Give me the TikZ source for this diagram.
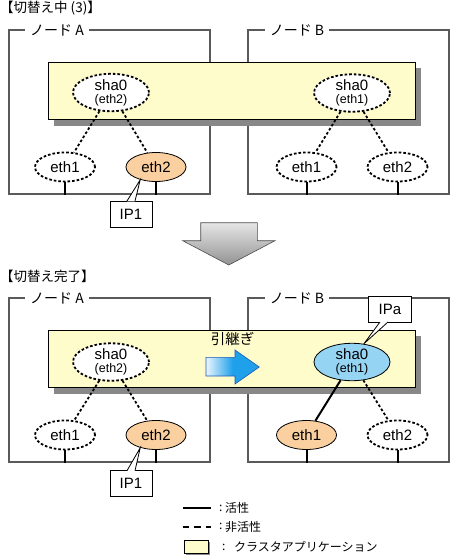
\documentclass[tikz,border=0pt]{standalone}
\usepackage{fontspec}
\setmainfont{Liberation Sans}
\newfontfamily\jpfont{Noto Sans CJK JP}
\usetikzlibrary{shapes.geometric,calc}
\definecolor{bandyellow}{RGB}{255,252,204}
\definecolor{shadowgray}{RGB}{136,136,136}
\definecolor{framegray}{RGB}{90,90,90}
\definecolor{iforange}{RGB}{250,208,160}
\definecolor{shablue}{RGB}{150,212,243}
\definecolor{arrblue}{RGB}{30,160,235}
\definecolor{arrlight}{RGB}{235,245,255}
\definecolor{arredge}{RGB}{30,90,180}
\pgfdeclarehorizontalshading{bluearr}{100bp}{color(0bp)=(arrlight); color(25bp)=(arrlight); color(50bp)=(arrblue); color(100bp)=(arrblue)}
\tikzset{
  frm/.style={draw=framegray, line width=1.4pt, minimum width=201pt, minimum height=164pt, inner sep=0pt},
  frmlabel/.style={fill=white, inner xsep=5pt, inner ysep=1pt, font=\jpfont\fontsize{14}{14}\selectfont},
  title/.style={anchor=west, inner sep=0pt, font=\jpfont\fontsize{13.5}{13.5}\selectfont},
  bandbox/.style={fill=bandyellow, draw=black, line width=0.8pt, minimum width=367pt, minimum height=57pt, inner sep=0pt},
  ellbase/.style={ellipse, inner sep=0pt, minimum width=60pt, minimum height=29pt, font=\fontsize{15}{15}\selectfont},
  ifoff/.style={ellbase, draw=black, fill=white, line width=1.8pt, dash pattern=on 2.6pt off 2pt},
  ifon/.style={ellbase, draw=black, fill=iforange, line width=0.8pt},
  shabase/.style={ellipse, inner sep=0pt, minimum width=76pt, minimum height=36pt, align=center, font=\fontsize{15}{13}\selectfont},
  shaoff/.style={shabase, draw=black, fill=white, line width=1.8pt, dash pattern=on 2.6pt off 2pt},
  shaon/.style={shabase, draw=black, fill=shablue, line width=0.8pt},
  conoff/.style={draw=black, line width=1.8pt, dash pattern=on 2.6pt off 2.2pt},
  conon/.style={draw=black, line width=2pt},
  tickline/.style={draw=black, line width=2pt},
  callbox/.style={draw=black, fill=white, line width=0.8pt, inner sep=0pt, minimum height=26pt, font=\fontsize{15}{15}\selectfont},
  legtext/.style={anchor=west, inner sep=0pt, font=\jpfont\fontsize{12}{12}\selectfont},
}
\newcommand{\shatext}[1]{sha0\\{\fontsize{12.5}{12}\selectfont(#1)}}
\begin{document}
\begin{tikzpicture}[x=1pt,y=-1pt]
\useasboundingbox (0,0) rectangle (450,557);
% ---------------- top section ----------------
\node[title] (t-title) at (0,8) {【切替え中 (3)】};
\node[frm] (t-fA) at (109.5,112) {};
\node[frm] (t-fB) at (348.5,112) {};
\node[frmlabel] (t-labA) at (57,30) {ノード A};
\node[frmlabel] (t-labB) at (297,30) {ノード B};
\fill[shadowgray] (54,68) rectangle (421,126);
\node[bandbox] (t-band) at (231.5,90.5) {};
\node[shaoff] (t-shaA) at (111,92.5) {\shatext{eth2}};
\node[shaoff] (t-shaB) at (352,93) {\shatext{eth1}};
\node[ifoff] (t-e1A) at (65,167) {eth1};
\node[ifon]  (t-e2A) at (156,167) {eth2};
\node[ifoff] (t-e1B) at (306.5,167) {eth1};
\node[ifoff] (t-e2B) at (397.5,167) {eth2};
\draw[conoff] (t-shaA) -- (t-e1A);
\draw[conoff] (t-shaA) -- (t-e2A);
\draw[conoff] (t-shaB) -- (t-e1B);
\draw[conoff] (t-shaB) -- (t-e2B);
\foreach \n in {e1A,e2A}{\draw[tickline] (t-\n.south) -- (t-\n.south |- t-fA.south);}
\foreach \n in {e1B,e2B}{\draw[tickline] (t-\n.south) -- (t-\n.south |- t-fB.south);}
\node[callbox, minimum width=42pt] (t-ip1) at (131,214) {IP1};
\fill[white] ($(t-ip1.north)+(-4,0.8)$) -- (t-e2A.219) -- ($(t-ip1.north)+(4,0.8)$) -- cycle;
\draw[line width=0.8pt] ($(t-ip1.north)+(-4,0.4)$) -- (t-e2A.219) -- ($(t-ip1.north)+(4,0.4)$);
% big down arrow
\shade[top color=gray!20, bottom color=gray!85, draw=gray!60!black, line width=0.6pt]
  (200.7,222.7) -- (257.3,222.7) -- (257.3,240.7) -- (275,240.7) -- (228.8,265)
  -- (182.7,240.7) -- (200.7,240.7) -- cycle;
% ---------------- bottom section ----------------
\begin{scope}[yshift=-268pt]
\node[title] (b-title) at (0,8) {【切替え完了】};
\node[frm] (b-fA) at (109.5,112) {};
\node[frm] (b-fB) at (348.5,112) {};
\node[frmlabel] (b-labA) at (57,30) {ノード A};
\node[frmlabel] (b-labB) at (297,30) {ノード B};
\fill[shadowgray] (54,68) rectangle (421,126);
\node[bandbox] (b-band) at (231.5,90.5) {};
\node[shaoff] (b-shaA) at (111,94) {\shatext{eth2}};
\node[shaon]  (b-shaB) at (352,94) {\shatext{eth1}};
\node[ifoff] (b-e1A) at (65,167) {eth1};
\node[ifon]  (b-e2A) at (156,167) {eth2};
\node[ifon]  (b-e1B) at (306.5,167) {eth1};
\node[ifoff] (b-e2B) at (397.5,167) {eth2};
\draw[conoff] (b-shaA) -- (b-e1A);
\draw[conoff] (b-shaA) -- (b-e2A);
\draw[conon]  (b-shaB) -- (b-e1B);
\draw[conoff] (b-shaB) -- (b-e2B);
\foreach \n in {e1A,e2A}{\draw[tickline] (b-\n.south) -- (b-\n.south |- b-fA.south);}
\foreach \n in {e1B,e2B}{\draw[tickline] (b-\n.south) -- (b-\n.south |- b-fB.south);}
\node[callbox, minimum width=42pt] (b-ip1) at (131,215.7) {IP1};
\fill[white] ($(b-ip1.north)+(-4,0.8)$) -- (b-e2A.219) -- ($(b-ip1.north)+(4,0.8)$) -- cycle;
\draw[line width=0.8pt] ($(b-ip1.north)+(-4,0.4)$) -- (b-e2A.219) -- ($(b-ip1.north)+(4,0.4)$);
\node[callbox, minimum width=43.4pt] (b-ipa) at (390,41) {IPa};
\fill[white] ($(b-ipa.south)+(-10,-0.8)$) -- (b-shaB.57) -- ($(b-ipa.south)+(-2,-0.8)$) -- cycle;
\draw[line width=0.8pt] ($(b-ipa.south)+(-10,-0.4)$) -- (b-shaB.57) -- ($(b-ipa.south)+(-2,-0.4)$);
\node[inner sep=0pt, font=\jpfont\fontsize{14.5}{14.5}\selectfont] (b-hand) at (232.5,71) {引継ぎ};
\shade[shading=bluearr, draw=arredge, line width=0.6pt]
  (206,89.3) -- (235,89.3) -- (235,82) -- (259.3,99) -- (235,116) -- (235,108) -- (206,108) -- cycle;
\end{scope}
% ---------------- legend ----------------
\coordinate (l1a) at (182.7,508.3); \coordinate (l1b) at (211,508.3);
\coordinate (l2a) at (182.7,526.7); \coordinate (l2b) at (211,526.7);
\draw[conon] (l1a) -- (l1b);
\draw[draw=black, line width=2pt, dash pattern=on 6.5pt off 5pt] (l2a) -- (l2b);
\fill[shadowgray] (186.3,542) rectangle (210.3,555.3);
\draw[fill=bandyellow, line width=0.8pt] (184.3,540) rectangle (208.3,553.3);
\node[legtext] (lc1) at (219,508.3) {:};
\node[legtext] (lc2) at (219,526.7) {:};
\node[legtext] (lc3) at (222,547) {:};
\node[legtext] (lt1) at (225,508.3) {活性};
\node[legtext] (lt2) at (225,526.7) {非活性};
\node[legtext] (lt3) at (234,547) {クラスタアプリケーション};
\end{tikzpicture}
\end{document}
